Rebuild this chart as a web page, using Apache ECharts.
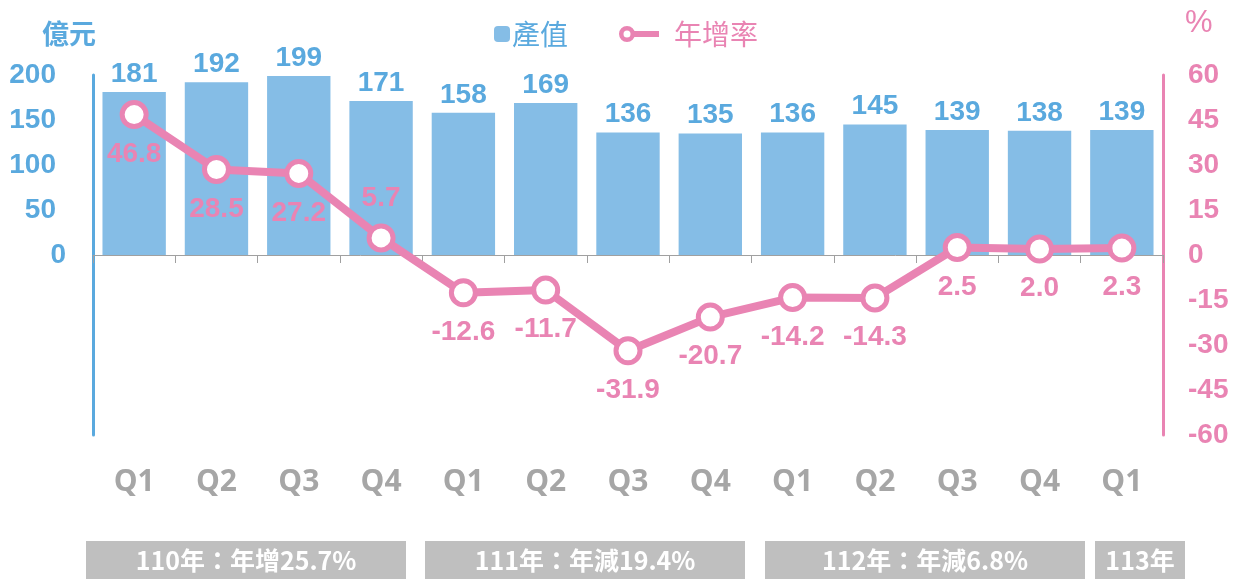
<!DOCTYPE html>
<html>
<head>
<meta charset="utf-8">
<script src="https://cdn.jsdelivr.net/npm/echarts@6/dist/echarts.min.js"></script>
<style>
html,body{margin:0;padding:0;background:#fff;}
#main{width:1244px;height:580px;}
</style>
</head>
<body>
<div id="main"></div>
<script>
// 季度 & 數值
var quarters = ['Q1','Q2','Q3','Q4','Q1','Q2','Q3','Q4','Q1','Q2','Q3','Q4','Q1'];
var output = [181,192,199,171,158,169,136,135,136,145,139,138,139];   // 產值 億元
var growth = [46.8,28.5,27.2,5.7,-12.6,-11.7,-31.9,-20.7,-14.2,-14.3,2.5,2.0,2.3]; // 年增率 %
var yearTags = ['110年：年增25.7%','111年：年減19.4%','112年：年減6.8%','113年'];
// 上方 / 下方 標籤位置
var growthLabelPos = ['bottom','bottom','bottom','top','bottom','bottom','bottom','bottom','bottom','bottom','bottom','bottom','bottom'];

var blue = '#5aa9de';
var barBlue = '#85bde6';
var pink = '#e984b3';
var gray = '#a6a6a6';
var numFont = '"Liberation Sans", Arial, sans-serif';
var cjkFont = '"Noto Sans CJK TC", sans-serif';

// 底部年份方塊
var boxes = [
    {x:86, w:320},
    {x:425, w:320},
    {x:765, w:320},
    {x:1095, w:90}
];
var graphics = [];
boxes.forEach(function(b, i){
    graphics.push({
        type:'rect', left:b.x, top:541,
        shape:{width:b.w, height:38},
        style:{fill:'#bfbfbf'}
    });
    graphics.push({
        type:'text', x:b.x + b.w/2, y:560,
        style:{
            text:yearTags[i], fill:'#fff',
            font:'bold 25px "Noto Sans CJK TC", sans-serif',
            align:'center', verticalAlign:'middle'
        }
    });
});

var option = {
    backgroundColor:'#fff',
    animation:false,
    grid:{left:93, right:81, top:75, bottom:145, containLabel:false, outerBoundsMode:'none'},
    legend:[
        {
            data:['產值'], left:489, top:15,
            itemWidth:16, itemHeight:16,
            textStyle:{color:blue, fontSize:28, fontFamily:cjkFont, padding:[0,0,0,-3]}
        },
        {
            data:[{name:'年增率', icon:'path://M0,8 A8,8 0 1,1 16,8 A8,8 0 1,1 0,8 Z M4.5,8 A3.5,3.5 0 1,0 11.5,8 A3.5,3.5 0 1,0 4.5,8 Z M15,5 L40,5 L40,11 L15,11 Z', itemStyle:{color:pink, borderWidth:0}}],
            left:614, top:15,
            itemWidth:40, itemHeight:16,
            textStyle:{color:pink, fontSize:28, fontFamily:cjkFont, padding:[0,0,0,10]}
        }
    ],
    xAxis:{
        type:'category',
        data:quarters,
        axisLine:{onZero:true, onZeroAxisIndex:0, lineStyle:{color:'#a0a0a0', width:1}},
        axisTick:{show:true, interval:0, length:8, lineStyle:{color:'#a0a0a0'}},
        axisLabel:{
            interval:0, margin:32, color:gray, fontSize:30, fontWeight:'bold',
            fontFamily:'"Open Sans", sans-serif'
        }
    },
    yAxis:[
        {
            type:'value', min:-200, max:200, interval:50,
            name:'億元', nameGap:28,
            nameTextStyle:{color:blue, fontSize:27, fontWeight:'bold', fontFamily:cjkFont, align:'right', padding:[0,-3,0,0]},
            axisLine:{show:true, lineStyle:{color:blue, width:3}},
            axisTick:{show:false},
            splitLine:{show:false},
            axisLabel:{
                margin:37, color:blue, fontSize:28, fontWeight:'bold', fontFamily:numFont,
                formatter:function(v){
                    if (v < 0) return '';
                    if (v === 0) return '{z|0}';
                    return v;
                },
                rich:{z:{color:blue, fontSize:28, fontWeight:'bold', fontFamily:numFont, padding:[0,-10,0,0]}}
            }
        },
        {
            type:'value', min:-60, max:60, interval:15,
            name:'%', nameGap:36,
            nameTextStyle:{color:pink, fontSize:31, fontFamily:numFont, align:'left', padding:[0,0,0,22]},
            axisLine:{show:true, lineStyle:{color:pink, width:3}},
            axisTick:{show:false},
            splitLine:{show:false},
            axisLabel:{margin:25, color:pink, fontSize:28, fontWeight:'bold', fontFamily:numFont}
        }
    ],
    series:[
        {
            name:'產值',
            type:'bar',
            yAxisIndex:0,
            barCategoryGap:'23%',
            itemStyle:{color:barBlue},
            label:{
                show:true, position:'top', distance:4,
                color:blue, fontSize:28, fontWeight:'bold', fontFamily:numFont
            },
            data:output
        },
        {
            name:'年增率',
            type:'line',
            yAxisIndex:1,
            symbol:'circle',
            symbolSize:24,
            lineStyle:{color:pink, width:8},
            itemStyle:{color:'#fff', borderColor:pink, borderWidth:5},
            label:{
                show:true, distance:11,
                color:pink, fontSize:28, fontWeight:'bold', fontFamily:numFont,
                formatter:function(p){ return p.value.toFixed(1); }
            },
            data:growth.map(function(v, i){
                return {value:v, label:{position:growthLabelPos[i]}};
            }),
            z:5
        }
    ],
    graphic:graphics
};

var chart = echarts.init(document.getElementById('main'));
chart.setOption(option);
</script>
</body>
</html>
